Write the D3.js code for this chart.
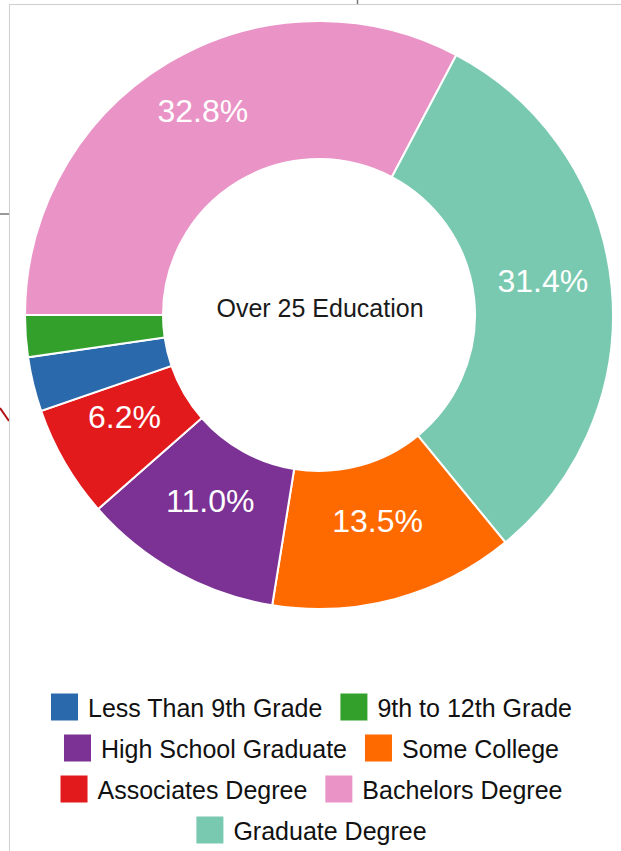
<!DOCTYPE html>
<html>
<head>
<meta charset="utf-8">
<script src="https://cdn.jsdelivr.net/npm/d3@7"></script>
<style>
  html, body { margin: 0; padding: 0; background: #ffffff; }
  svg { display: block; font-family: "Liberation Sans", Arial, sans-serif; }
</style>
</head>
<body>
<svg id="chart" width="621" height="851"></svg>
<script>
// legend order
const categories = ["Less Than 9th Grade", "9th to 12th Grade", "High School Graduate",
  "Some College", "Associates Degree", "Bachelors Degree", "Graduate Degree"];
const values = [3.0, 2.3, 11.0, 13.5, 6.2, 32.8, 31.4];
const colors = ["#2a69ac", "#33a02c", "#7b3294", "#ff6a00", "#e31a1c", "#ea93c6", "#79c9b0"];
// order the slices run clockwise from 9 o'clock
const drawOrder = [5, 6, 3, 2, 4, 0, 1];
const centerLabel = "Over 25 Education";

const svg = d3.select("#chart");

// page bits behind the card
svg.append("line").attr("x1", 357.5).attr("x2", 357.5).attr("y1", 0).attr("y2", 4)
  .attr("stroke", "#777").attr("stroke-width", 1.5);
svg.append("line").attr("x1", 0).attr("x2", 9).attr("y1", 214).attr("y2", 214)
  .attr("stroke", "#999").attr("stroke-width", 2);
svg.append("line").attr("x1", 0).attr("x2", 9).attr("y1", 408).attr("y2", 421)
  .attr("stroke", "#b01010").attr("stroke-width", 2);

// card
svg.append("rect")
  .attr("x", 9.5).attr("y", 4.5)
  .attr("width", 625).attr("height", 860)
  .attr("fill", "#fff")
  .attr("stroke", "#cfcfcf");

const cx = 319, cy = 315, outerR = 294, innerR = 156;

const slices = drawOrder.map(i => ({ name: categories[i], value: values[i], color: colors[i] }));

const pie = d3.pie()
  .sort(null)
  .value(d => d.value)
  .startAngle(-Math.PI / 2)
  .endAngle(1.5 * Math.PI);

const arc = d3.arc().innerRadius(innerR).outerRadius(outerR);

const g = svg.append("g").attr("transform", `translate(${cx},${cy})`);

g.selectAll("path.slice")
  .data(pie(slices))
  .join("path")
  .attr("class", "slice")
  .attr("d", arc)
  .attr("fill", d => d.data.color)
  .attr("stroke", "#fff")
  .attr("stroke-width", 2);

g.selectAll("text.pct")
  .data(pie(slices).filter(d => d.data.value > 5))
  .join("text")
  .attr("class", "pct")
  .attr("x", d => arc.centroid(d)[0])
  .attr("y", d => arc.centroid(d)[1])
  .attr("text-anchor", "middle")
  .attr("fill", "#fff")
  .attr("font-size", 32)
  .text(d => d.data.value.toFixed(1) + "%");

g.append("text")
  .attr("x", 1)
  .attr("y", -7)
  .attr("text-anchor", "middle")
  .attr("dominant-baseline", "central")
  .attr("fill", "#1a1a1a")
  .attr("font-size", 25)
  .text(centerLabel);

// legend, wrapped rows centred
const box = 27, textGap = 10, itemGap = 18, maxW = 580, legendCx = 311.5;
const rowY = 707, rowStep = 41;

const legend = svg.append("g");
const items = categories.map((name, i) => {
  const it = legend.append("g");
  it.append("rect").attr("width", box).attr("height", box)
    .attr("y", -box / 2).attr("fill", colors[i]);
  const t = it.append("text")
    .attr("x", box + textGap)
    .attr("dominant-baseline", "central")
    .attr("y", 1)
    .attr("font-size", 25)
    .attr("fill", "#111")
    .text(name);
  return { node: it, w: box + textGap + t.node().getComputedTextLength() };
});

let rows = [[]], rowW = [0];
items.forEach(it => {
  const r = rows.length - 1;
  const nw = rowW[r] + (rows[r].length ? itemGap : 0) + it.w;
  if (rows[r].length && nw > maxW) {
    rows.push([it]); rowW.push(it.w);
  } else {
    rows[r].push(it); rowW[r] = nw;
  }
});

rows.forEach((row, ri) => {
  let x = legendCx - rowW[ri] / 2;
  row.forEach(it => {
    it.node.attr("transform", `translate(${x},${rowY + ri * rowStep})`);
    x += it.w + itemGap;
  });
});
</script>
</body>
</html>
